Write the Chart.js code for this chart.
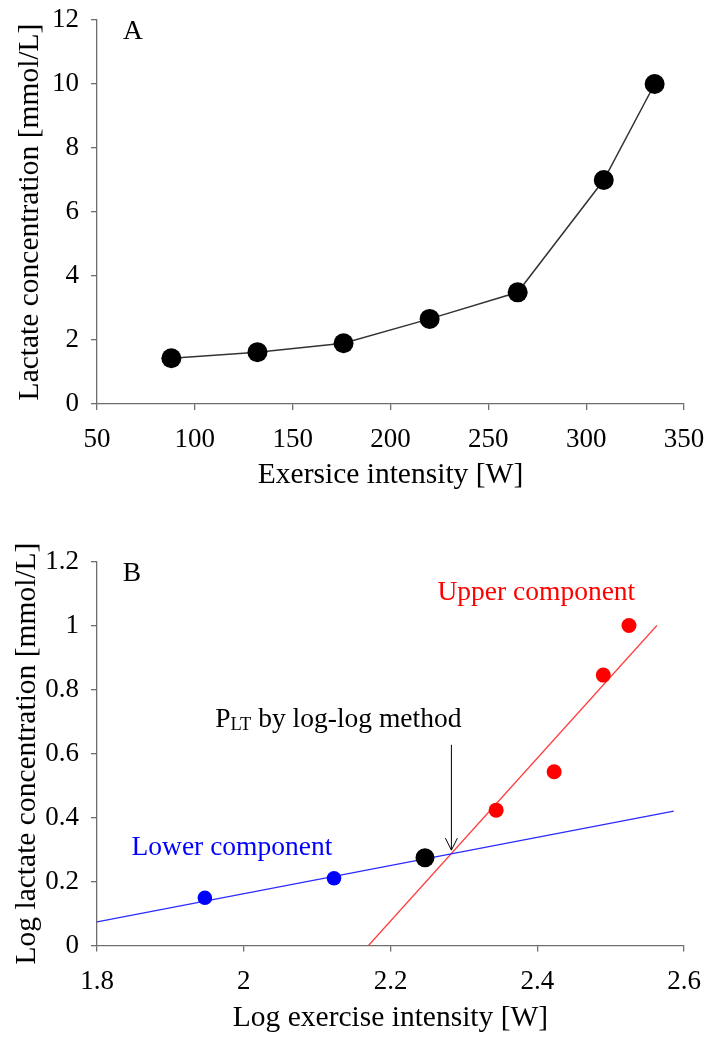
<!DOCTYPE html>
<html>
<head>
<meta charset="utf-8">
<script src="https://cdn.jsdelivr.net/npm/chart.js@4"></script>
<style>
  html, body { margin: 0; padding: 0; background: #fff; }
  canvas { display: block; }
</style>
</head>
<body>
<canvas id="chartA" width="709" height="500"></canvas>
<canvas id="chartB" width="709" height="537"></canvas>
<script>
// panel A: raw lactate curve
const intensityW = [88, 132, 176, 220, 265, 309, 335];
const lactate = [1.43, 1.62, 1.9, 2.66, 3.49, 7.0, 10.0];
const xTicksA = [50, 100, 150, 200, 250, 300, 350];
const yTicksA = [0, 2, 4, 6, 8, 10, 12];

// panel B: log-log
const logLowerX = [1.947, 2.123];
const logLowerY = [0.149, 0.21];
const logUpperX = [2.344, 2.423, 2.49, 2.525];
const logUpperY = [0.423, 0.543, 0.845, 1.0];
const logThreshX = [2.247];
const logThreshY = [0.274];
const lowerFitX = [1.8, 2.586];
const lowerFitY = [0.074, 0.42];
const upperFitX = [2.17, 2.563];
const upperFitY = [0, 1.0];
const xTicksB = [1.8, 2, 2.2, 2.4, 2.6];
const yTicksB = [0, 0.2, 0.4, 0.6, 0.8, 1, 1.2];

const FONT = "'Liberation Serif', 'Times New Roman', serif";
const axisColor = '#6e6e6e';

const pairs = (xs, ys) => xs.map((x, i) => ({ x: x, y: ys[i] }));

const axis = (min, max, ticks, title, opts) => ({
  type: 'linear',
  position: opts.position,
  min: min,
  max: max,
  afterBuildTicks: s => { s.ticks = ticks.map(v => ({ value: v })); },
  afterFit: s => {
    if (opts.position === 'left') s.width = opts.size;
    else s.height = opts.size;
    // plot area is fixed by layout padding, not by label overflow
    s.paddingTop = s.paddingBottom = s.paddingLeft = s.paddingRight = 0;
  },
  grid: { drawOnChartArea: false, color: axisColor, tickLength: 6, lineWidth: 1.3 },
  border: { color: axisColor, width: 1.3 },
  ticks: {
    color: '#000',
    font: { family: FONT, size: 27 },
    padding: opts.position === 'left' ? 12 : 14,
    maxRotation: 0,
    autoSkip: false,
    callback: v => String(v)
  },
  title: {
    display: true,
    text: title,
    color: '#000',
    font: { family: FONT, size: 29.5 },
    padding: opts.titlePad
  }
});

// text + arrow drawn through the scales
const notes = {
  id: 'notes',
  afterDatasetsDraw(chart, args, o) {
    const { ctx, scales } = chart;
    const sx = scales.x, sy = scales.y;
    ctx.save();
    ctx.textBaseline = 'alphabetic';
    ctx.textAlign = 'left';
    (o.texts || []).forEach(t => {
      ctx.fillStyle = t.color || '#000';
      let px = sx.getPixelForValue(t.x);
      const py = sy.getPixelForValue(t.y);
      t.parts.forEach(p => {
        ctx.font = (p.size || 27.5) + 'px ' + FONT;
        ctx.fillText(p.text, px, py + (p.dy || 0));
        px += ctx.measureText(p.text).width;
      });
    });
    if (o.arrow) {
      const a = o.arrow;
      const ax = sx.getPixelForValue(a.x);
      const y0 = sy.getPixelForValue(a.from);
      const y1 = sy.getPixelForValue(a.to);
      ctx.strokeStyle = '#000';
      ctx.lineWidth = 1;
      ctx.beginPath();
      ctx.moveTo(ax, y0);
      ctx.lineTo(ax, y1);
      ctx.moveTo(ax - 6, y1 - 12);
      ctx.lineTo(ax, y1);
      ctx.lineTo(ax + 6, y1 - 12);
      ctx.stroke();
    }
    ctx.restore();
  }
};

new Chart(document.getElementById('chartA'), {
  type: 'scatter',
  data: {
    datasets: [{
      data: pairs(intensityW, lactate),
      showLine: true,
      borderColor: '#333',
      borderWidth: 1.5,
      backgroundColor: '#000',
      pointBorderColor: '#000',
      pointRadius: 10,
      pointBorderWidth: 0
    }]
  },
  options: {
    responsive: false,
    animation: false,
    devicePixelRatio: 1,
    layout: { padding: { top: 20, right: 25, left: 0, bottom: 0 } },
    plugins: {
      legend: { display: false },
      tooltip: { enabled: false },
      notes: {
        texts: [{ x: 63.3, y: 11.41, parts: [{ text: 'A' }] }]
      }
    },
    scales: {
      x: axis(50, 350, xTicksA, 'Exersice intensity [W]', { position: 'bottom', size: 96, titlePad: { top: 0, bottom: 7 } }),
      y: axis(0, 12, yTicksA, 'Lactate concentration [mmol/L]', { position: 'left', size: 97, titlePad: { top: 13, bottom: 0 } })
    }
  },
  plugins: [notes]
});

new Chart(document.getElementById('chartB'), {
  type: 'scatter',
  data: {
    datasets: [
      { data: pairs(logThreshX, logThreshY), backgroundColor: '#000', pointRadius: 9.5, pointBorderWidth: 0 },
      { data: pairs(logLowerX, logLowerY), backgroundColor: '#0000ff', pointRadius: 7.3, pointBorderWidth: 0 },
      { data: pairs(logUpperX, logUpperY), backgroundColor: '#ff0000', pointRadius: 7.5, pointBorderWidth: 0 },
      { data: pairs(lowerFitX, lowerFitY), showLine: true, borderColor: '#2a2aff', borderWidth: 1.2, pointRadius: 0 },
      { data: pairs(upperFitX, upperFitY), showLine: true, borderColor: '#ff3b3b', borderWidth: 1.2, pointRadius: 0 }
    ]
  },
  options: {
    responsive: false,
    animation: false,
    devicePixelRatio: 1,
    layout: { padding: { top: 61.5, right: 25, left: 0, bottom: 0 } },
    plugins: {
      legend: { display: false },
      tooltip: { enabled: false },
      notes: {
        texts: [
          { x: 1.835, y: 1.139, parts: [{ text: 'B' }] },
          { x: 2.264, y: 1.08, color: '#ff0000', parts: [{ text: 'Upper component' }] },
          { x: 1.847, y: 0.283, color: '#0000ff', parts: [{ text: 'Lower component' }] },
          { x: 1.961, y: 0.683, parts: [{ text: 'P' }, { text: 'LT', size: 18.5, dy: 3 }, { text: ' by log-log method' }] }
        ],
        arrow: { x: 2.283, from: 0.627, to: 0.298 }
      }
    },
    scales: {
      x: axis(1.8, 2.6, xTicksB, 'Log exercise intensity [W]', { position: 'bottom', size: 91.5, titlePad: { top: 0, bottom: 1 } }),
      y: axis(0, 1.2, yTicksB, 'Log lactate concentration [mmol/L]', { position: 'left', size: 97, titlePad: { top: 10, bottom: 0 } })
    }
  },
  plugins: [notes]
});
</script>
</body>
</html>
